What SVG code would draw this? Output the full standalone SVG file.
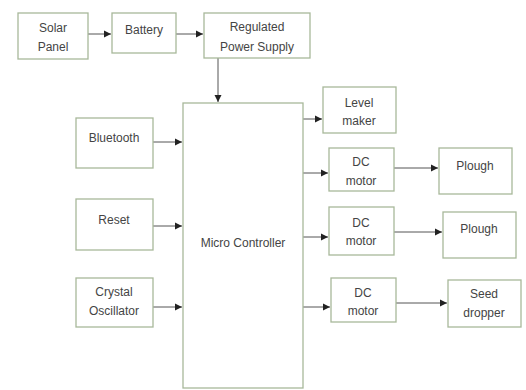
<svg xmlns="http://www.w3.org/2000/svg" width="526" height="390" viewBox="0 0 526 390">
<defs>
<marker id="ah" markerWidth="8" markerHeight="8" refX="7" refY="4" orient="auto" markerUnits="userSpaceOnUse">
<path d="M0,0.5 L7,4 L0,7.5 Z" fill="#222"/>
</marker>
<style>
.box{fill:#ffffff;stroke:#a8b89a;stroke-width:1.3}
.t{font-family:"Liberation Sans",Arial,sans-serif;font-size:12px;fill:#444;text-anchor:middle}
.c{stroke:#555;stroke-width:1;fill:none;marker-end:url(#ah)}
</style>
</defs>
<rect width="526" height="390" fill="#ffffff"/>
<g id="connectors">
<line class="c" x1="88" y1="34" x2="111" y2="34"/>
<line class="c" x1="176" y1="34" x2="203" y2="34"/>
<line class="c" x1="218" y1="58" x2="218" y2="102"/>
<line class="c" x1="153" y1="142" x2="182" y2="142"/>
<line class="c" x1="153" y1="226" x2="182" y2="226"/>
<line class="c" x1="153" y1="307" x2="182" y2="307"/>
<line class="c" x1="303" y1="119" x2="322" y2="119"/>
<line class="c" x1="303" y1="173" x2="328" y2="173"/>
<line class="c" x1="303" y1="237" x2="328" y2="237"/>
<line class="c" x1="303" y1="307" x2="330" y2="307"/>
<line class="c" x1="394" y1="168" x2="438" y2="168"/>
<line class="c" x1="394" y1="232" x2="442" y2="232"/>
<line class="c" x1="396" y1="303" x2="447" y2="303"/>
</g>
<g id="solar"><rect class="box" x="18" y="13" width="70" height="46"/><text class="t" x="53" y="32">Solar</text><text class="t" x="53" y="51">Panel</text></g>
<g id="battery"><rect class="box" x="112" y="13" width="64" height="40"/><text class="t" x="144" y="34">Battery</text></g>
<g id="rps"><rect class="box" x="204" y="13" width="106" height="45"/><text class="t" x="257" y="31">Regulated</text><text class="t" x="257" y="51">Power Supply</text></g>
<g id="micro"><rect class="box" x="183" y="103" width="120" height="285"/><text class="t" x="243" y="247">Micro Controller</text></g>
<g id="bluetooth"><rect class="box" x="76" y="118" width="77" height="50"/><text class="t" x="114" y="142">Bluetooth</text></g>
<g id="reset"><rect class="box" x="76" y="199" width="77" height="51"/><text class="t" x="114" y="224">Reset</text></g>
<g id="crystal"><rect class="box" x="76" y="278" width="77" height="49"/><text class="t" x="114" y="296">Crystal</text><text class="t" x="114" y="315">Oscillator</text></g>
<g id="level"><rect class="box" x="323" y="87" width="73" height="46"/><text class="t" x="359" y="107">Level</text><text class="t" x="359" y="125">maker</text></g>
<g id="dc1"><rect class="box" x="329" y="148" width="65" height="43"/><text class="t" x="361" y="166">DC</text><text class="t" x="361" y="185">motor</text></g>
<g id="plough1"><rect class="box" x="439" y="148" width="73" height="46"/><text class="t" x="475" y="170">Plough</text></g>
<g id="dc2"><rect class="box" x="329" y="207" width="65" height="48"/><text class="t" x="361" y="227">DC</text><text class="t" x="361" y="245">motor</text></g>
<g id="plough2"><rect class="box" x="443" y="212" width="73" height="46"/><text class="t" x="479" y="233">Plough</text></g>
<g id="dc3"><rect class="box" x="331" y="278" width="65" height="44"/><text class="t" x="363" y="297">DC</text><text class="t" x="363" y="315">motor</text></g>
<g id="seed"><rect class="box" x="448" y="280" width="73" height="47"/><text class="t" x="484" y="298">Seed</text><text class="t" x="484" y="317">dropper</text></g>
</svg>
